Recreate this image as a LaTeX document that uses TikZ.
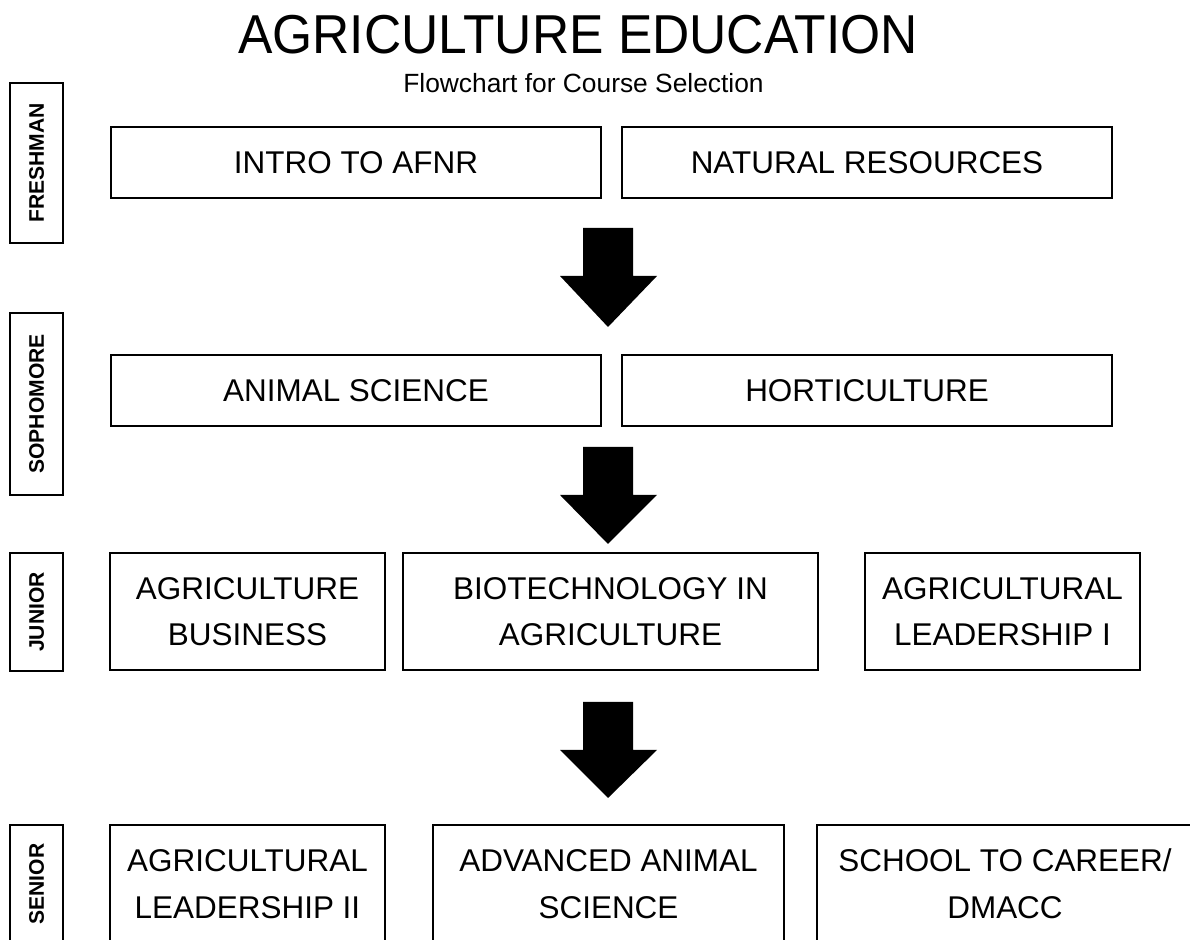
\documentclass[tikz,border=0pt]{standalone}
\usepackage{fontspec}
\setmainfont{Liberation Sans}
\newfontfamily\titlefont[FakeStretch=0.94]{Liberation Sans}
\tikzset{
  course/.style={draw, line width=0.030cm, inner sep=0pt, align=center,
    font=\fontsize{17.9}{26.5}\selectfont},
  yearbox/.style={draw, line width=0.030cm, inner sep=0pt, rotate=90,
    minimum height=1.060000cm, font=\fontsize{12}{14}\selectfont\bfseries},
}
\begin{document}
\begin{tikzpicture}
                        \clip (0,0) rectangle (23.800000,18.800000);
                        
                        % Drawing title
                        \node (title) [anchor=base] at (11.560000,17.720000) {\titlefont\fontsize{31.2}{36}\selectfont AGRICULTURE EDUCATION};%
                        \node (subtitle) [anchor=base] at (11.670000,16.940000) {\fontsize{15}{17}\selectfont Flowchart for Course Selection};%
                        
                        % Marking years
                        \node (freshman) [yearbox, minimum width=3.200000cm] at (0.730000,15.540000) {FRESHMAN};%
                        \node (sophomore) [yearbox, minimum width=3.640000cm] at (0.730000,10.720000) {SOPHOMORE};%
                        \node (junior) [yearbox, minimum width=2.360000cm] at (0.730000,6.560000) {JUNIOR};%
                        \node (senior) [yearbox, minimum width=2.360000cm] at (0.730000,1.120000) {SENIOR};%
                        
                        % Drawing freshman courses
                        \node (intro) [course, minimum width=9.800000cm, minimum height=1.420000cm] at (7.120000,15.550000) {INTRO TO AFNR};%
                        \node (natres) [course, minimum width=9.800000cm, minimum height=1.420000cm] at (17.340000,15.550000) {NATURAL RESOURCES};%
                        
                        % Drawing arrow 1
                        \fill (11.660000,14.240000) -- (12.660000,14.240000) -- (12.660000,13.280000) -- (13.140000,13.280000) -- (12.160000,12.260000) -- (11.200000,13.280000) -- (11.660000,13.280000) -- cycle;%
                        
                        % Drawing sophomore courses
                        \node (animal) [course, minimum width=9.800000cm, minimum height=1.420000cm] at (7.120000,10.990000) {ANIMAL SCIENCE};%
                        \node (horti) [course, minimum width=9.800000cm, minimum height=1.420000cm] at (17.340000,10.990000) {HORTICULTURE};%
                        
                        % Drawing arrow 2
                        \fill (11.660000,9.860000) -- (12.660000,9.860000) -- (12.660000,8.900000) -- (13.140000,8.900000) -- (12.160000,7.920000) -- (11.200000,8.900000) -- (11.660000,8.900000) -- cycle;%
                        
                        % Drawing junior courses
                        \node (business) [course, minimum width=5.500000cm, minimum height=2.340000cm] at (4.950000,6.570000) {AGRICULTURE\\BUSINESS};%
                        \node (biotech) [course, minimum width=8.300000cm, minimum height=2.340000cm] at (12.210000,6.570000) {BIOTECHNOLOGY IN\\AGRICULTURE};%
                        \node (leadone) [course, minimum width=5.500000cm, minimum height=2.340000cm] at (20.050000,6.570000) {AGRICULTURAL\\LEADERSHIP I};%
                        
                        % Drawing arrow 3
                        \fill (11.660000,4.760000) -- (12.660000,4.760000) -- (12.660000,3.800000) -- (13.140000,3.800000) -- (12.160000,2.840000) -- (11.200000,3.800000) -- (11.660000,3.800000) -- cycle;%
                        
                        % Drawing senior courses
                        \node (leadtwo) [course, minimum width=5.500000cm, minimum height=2.360000cm] at (4.950000,1.120000) {AGRICULTURAL\\LEADERSHIP II};%
                        \node (advanimal) [course, minimum width=7.020000cm, minimum height=2.360000cm] at (12.170000,1.120000) {ADVANCED ANIMAL\\SCIENCE};%
                        \node (career) [course, minimum width=7.520000cm, minimum height=2.360000cm] at (20.100000,1.120000) {SCHOOL TO CAREER/\\DMACC};%
                    \end{tikzpicture}
\end{document}
